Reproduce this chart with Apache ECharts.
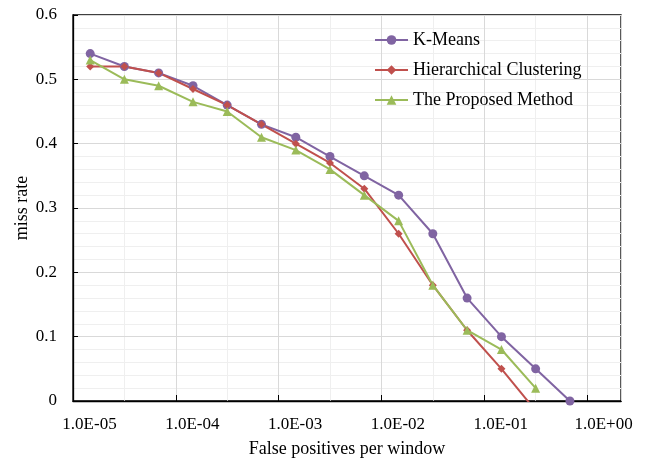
<!doctype html>
<html>
  <head>
    <meta charset="utf-8">
    <title>miss rate vs FPPW</title>
    <script src="https://cdn.jsdelivr.net/npm/echarts@6/dist/echarts.min.js"></script>
    <style>
      html, body { margin: 0; padding: 0; background: #fff; }
      #chart { width: 649px; height: 458px; }
    </style>
  </head>
  <body>
    <div id="chart"></div>
    <script>
      // false positives per window (shared x positions, 1/3 decade apart)
      var fppw = [1.47e-5, 3.16e-5, 6.81e-5, 1.47e-4, 3.16e-4, 6.81e-4, 1.47e-3,
                  3.16e-3, 6.81e-3, 1.47e-2, 3.16e-2, 6.81e-2, 0.147, 0.316, 0.681];
      var kMeans = [0.54, 0.52, 0.51, 0.49, 0.46, 0.43, 0.41, 0.38, 0.35, 0.32, 0.26, 0.16, 0.10, 0.05, 0.00];
      var hierarchical = [0.52, 0.52, 0.51, 0.485, 0.46, 0.43, 0.40, 0.37, 0.33, 0.26, 0.18, 0.11, 0.05, -0.015];
      var proposed = [0.53, 0.50, 0.49, 0.465, 0.45, 0.41, 0.39, 0.36, 0.32, 0.28, 0.18, 0.11, 0.08, 0.02];
      var seriesNames = ['K-Means', 'Hierarchical Clustering', 'The Proposed Method'];

      var font = '"Liberation Serif", "Times New Roman", serif';

      function pairs(vals) {
        var out = [];
        for (var i = 0; i < vals.length; i++) {
          out.push([Math.log10(fppw[i]), vals[i]]);
        }
        return out;
      }

      // -5 -> 1.0E-05, 0 -> 1.0E+00
      function expLabel(v) {
        var n = Math.round(v);
        var a = Math.abs(n);
        return '1.0E' + (n < 0 ? '-' : '+') + (a < 10 ? '0' : '') + a;
      }

      function lineSeries(name, vals, color, symbol, size) {
        return {
          name: name,
          type: 'line',
          xAxisIndex: 0,
          data: pairs(vals),
          symbol: symbol,
          symbolSize: size,
          clip: true,
          z: 5,
          lineStyle: { color: color, width: 2 },
          itemStyle: { color: color },
          emphasis: { disabled: true }
        };
      }

      var myChart = echarts.init(document.getElementById('chart'));
      myChart.setOption({
        animation: false,
        backgroundColor: '#fff',
        textStyle: { fontFamily: font, color: '#000' },
        grid: {
          left: 73, right: 28, top: 15, bottom: 57,
          outerBoundsMode: 'none', containLabel: false,
          show: true, borderColor: '#000', borderWidth: 1.3, backgroundColor: 'transparent'
        },
        legend: {
          orient: 'vertical',
          left: 374, top: 31, padding: 0,
          itemWidth: 33, itemHeight: 12, itemGap: 12,
          data: seriesNames,
          textStyle: { fontFamily: font, fontSize: 18, lineHeight: 18, color: '#000' }
        },
        xAxis: [{
          type: 'value',
          min: -5, max: 0.33, interval: 1,
          name: 'False positives per window',
          nameLocation: 'middle', nameGap: 39,
          nameTextStyle: { fontFamily: font, fontSize: 18, color: '#000' },
          axisLine: { show: true, onZero: false, lineStyle: { color: '#000', width: 1.3 } },
          axisTick: { show: true, inside: true, length: 6, lineStyle: { color: '#000' } },
          axisLabel: {
            formatter: expLabel, showMaxLabel: false,
            fontFamily: font, fontSize: 17, color: '#000',
            margin: 15, padding: [0, 0, 0, 33]
          },
          splitLine: { show: true, lineStyle: { color: '#d9d9d9', width: 1 } },
          z: 2
        }, {
          // half-decade minor grid only
          type: 'value',
          position: 'bottom',
          min: -5, max: 0.33, interval: 0.5,
          axisLine: { show: false },
          axisTick: { show: false },
          axisLabel: { show: false },
          splitLine: { show: true, lineStyle: { color: '#efefef', width: 1 } },
          z: 1
        }],
        yAxis: {
          type: 'value',
          min: 0, max: 0.6, interval: 0.1,
          name: 'miss rate',
          nameLocation: 'middle', nameGap: 42, nameMoveOverlap: false,
          nameTextStyle: { fontFamily: font, fontSize: 18, color: '#000' },
          axisLine: { show: true, onZero: false, lineStyle: { color: '#000', width: 1.3 } },
          axisTick: { show: true, inside: true, length: 5, lineStyle: { color: '#000' } },
          axisLabel: { fontFamily: font, fontSize: 17, color: '#000', margin: 16 },
          splitLine: { show: true, lineStyle: { color: '#d9d9d9', width: 1 } },
          minorTick: { show: false, splitNumber: 5 },
          minorSplitLine: { show: true, lineStyle: { color: '#efefef', width: 1 } },
          z: 2
        },
        series: [
          lineSeries(seriesNames[0], kMeans, '#8064A2', 'circle', 9),
          lineSeries(seriesNames[1], hierarchical, '#C0504D', 'diamond', 8),
          lineSeries(seriesNames[2], proposed, '#9BBB59', 'triangle', 9)
        ]
      });
    </script>
  </body>
</html>
